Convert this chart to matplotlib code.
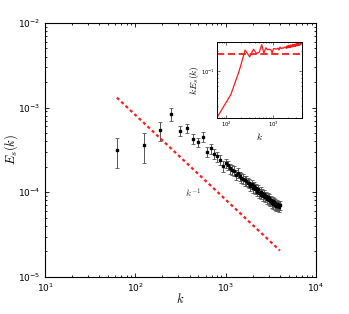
import numpy as np
import matplotlib
matplotlib.use('Agg')
import matplotlib.pyplot as plt
from matplotlib.ticker import LogLocator, NullFormatter

plt.rcParams['font.family'] = ['DejaVu Sans']
plt.rcParams['mathtext.fontset'] = 'dejavusans'

# --- data ---
k = [62.5, 125, 187.5, 250, 312.5, 375, 437.5, 500, 562.5, 625, 687.5,
     750, 812.5, 875, 937.5, 1000, 1062.5, 1125, 1187.5, 1250, 1312.5,
     1375, 1437.5, 1500, 1562.5, 1625, 1687.5, 1750, 1812.5, 1875, 1937.5,
     2000, 2062.5, 2125, 2187.5, 2250, 2312.5, 2375, 2437.5, 2500, 2562.5,
     2625, 2687.5, 2750, 2812.5, 2875, 2937.5, 3000, 3062.5, 3125, 3187.5,
     3250, 3312.5, 3375, 3437.5, 3500, 3562.5, 3625, 3687.5, 3750, 3812.5,
     3875, 3937.5, 4000]

E_s = [3.16e-4, 3.6e-4, 5.45e-4, 8.4e-4, 5.3e-4, 5.75e-4, 4.27e-4, 3.9e-4,
       4.5e-4, 3.0e-4, 3.3e-4, 2.83e-4, 2.65e-4, 2.42e-4, 2.03e-4, 2.21e-4,
       2.08e-4, 1.92e-4, 1.84e-4, 1.80e-4, 1.60e-4, 1.70e-4, 1.55e-4, 1.48e-4,
       1.45e-4, 1.38e-4, 1.37e-4, 1.30e-4, 1.29e-4, 1.19e-4, 1.25e-4, 1.13e-4,
       1.19e-4, 1.08e-4, 1.13e-4, 1.02e-4, 1.08e-4, 9.8e-5, 1.02e-4, 9.4e-5,
       9.9e-5, 9.0e-5, 9.5e-5, 8.7e-5, 9.1e-5, 8.3e-5, 8.8e-5, 8.1e-5,
       8.5e-5, 7.8e-5, 8.2e-5, 7.5e-5, 7.9e-5, 7.3e-5, 7.7e-5, 7.1e-5,
       7.5e-5, 6.9e-5, 7.3e-5, 6.8e-5, 7.1e-5, 6.7e-5, 7.0e-5, 7.0e-5]

E_err = [1.2e-4, 1.4e-4, 1.4e-4, 1.4e-4, 7e-5, 7e-5, 6e-5, 5e-5,
         6e-5, 4e-5, 4.5e-5, 3.8e-5, 3.5e-5, 3.2e-5, 2.8e-5, 2.9e-5,
         2.7e-5, 2.6e-5, 2.4e-5, 2.4e-5, 2.1e-5, 2.2e-5, 2.0e-5, 1.9e-5,
         1.9e-5, 1.8e-5, 1.7e-5, 1.6e-5, 1.6e-5, 1.5e-5, 1.5e-5, 1.4e-5,
         1.4e-5, 1.3e-5, 1.3e-5, 1.25e-5, 1.25e-5, 1.2e-5, 1.2e-5, 1.15e-5,
         1.15e-5, 1.1e-5, 1.1e-5, 1.05e-5, 1.05e-5, 1.0e-5, 1.0e-5, 9.5e-6,
         9.5e-6, 9.2e-6, 9.2e-6, 9e-6, 9e-6, 8.8e-6, 8.8e-6, 8.6e-6,
         8.6e-6, 8.4e-6, 8.4e-6, 8.2e-6, 8.2e-6, 8e-6, 8e-6, 8e-6]

slope_C = 0.082      # k^-1 reference line amplitude
inset_level = 0.183  # flat level in the compensated inset

k = np.array(k)
E_s = np.array(E_s)
E_err = np.array(E_err)

fig = plt.figure(figsize=(3.49, 3.14), dpi=100)
ax = fig.add_axes([0.129, 0.118, 0.776, 0.809])

ax.errorbar(k, E_s, yerr=E_err, fmt='s', color='black', ecolor='#555555',
            ms=1.7, elinewidth=0.7, capsize=1.2, capthick=0.6)
ax.plot(k, slope_C / k, color='#ff1a1a', lw=1.6, ls=(0, (1.4, 1.3)))
ax.text(435, 9.8e-5, r'$k^{-1}$', fontsize=7, color='#333333',
        math_fontfamily='cm', ha='center', va='center')

ax.set_xscale('log')
ax.set_yscale('log')
ax.set_xlim(10, 1e4)
ax.set_ylim(1e-5, 1e-2)
for a in [ax.xaxis, ax.yaxis]:
    a.set_major_locator(LogLocator(base=10))
    a.set_minor_locator(LogLocator(base=10, subs=np.arange(2, 10)))
    a.set_minor_formatter(NullFormatter())
ax.tick_params(which='both', direction='in', top=True, right=True,
               labelsize=6.5, width=0.6)
ax.tick_params(which='major', length=3)
ax.tick_params(which='minor', length=1.5)
for s in ax.spines.values():
    s.set_linewidth(0.8)

ax.set_xlabel(r'$k$', fontsize=9, math_fontfamily='cm')
ax.set_ylabel(r'$E_s(k)$', fontsize=9, math_fontfamily='cm')
ax.xaxis.set_label_coords(0.5, -0.06)
ax.yaxis.set_label_coords(-0.093, 0.5)

# inset: compensated spectrum
ins = fig.add_axes([0.621, 0.624, 0.244, 0.243])
kE = k * E_s
ins.plot(k, kE, color='#ff1a1a', lw=0.9)
ins.axhline(inset_level, color='#ff1a1a', lw=1.3, ls=(0, (4, 2)))
ins.set_xscale('log')
ins.set_yscale('log')
ins.set_xlim(k.min(), k.max())
ins.set_ylim(kE.min(), kE.max())
ins.yaxis.set_major_locator(LogLocator(base=10))
ins.yaxis.set_minor_formatter(NullFormatter())
ins.xaxis.set_minor_formatter(NullFormatter())
ins.tick_params(which='both', direction='in', top=True, right=True,
                labelsize=3.8, width=0.4, pad=1.5)
ins.tick_params(which='major', length=2)
ins.tick_params(which='minor', length=1)
for s in ins.spines.values():
    s.set_linewidth(0.7)
ins.set_xlabel(r'$k$', fontsize=7, math_fontfamily='cm', labelpad=1)
ins.set_ylabel(r'$kE_s(k)$', fontsize=7, math_fontfamily='cm', labelpad=0)

fig.savefig('out.png', dpi=100)
